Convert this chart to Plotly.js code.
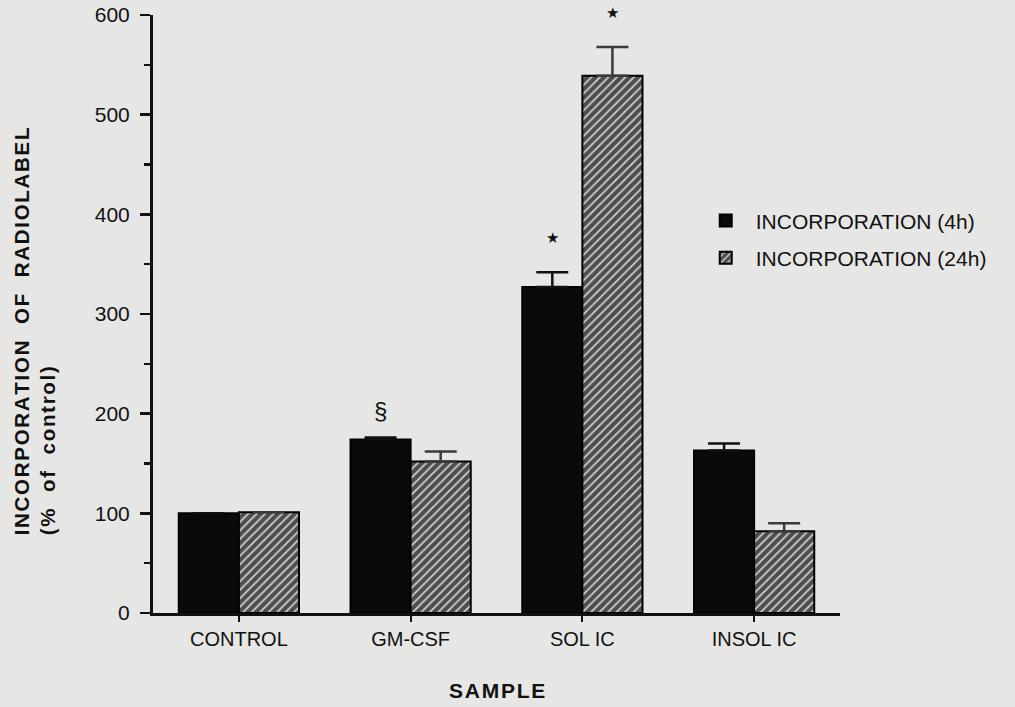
<!DOCTYPE html>
<html>
<head>
<meta charset="utf-8">
<script src="https://cdn.plot.ly/plotly-3.0.1.min.js"></script>
<style>html,body{margin:0;padding:0;background:#e6e6e4;}</style>
</head>
<body>
<div id="chart" style="width:1015px;height:707px;"></div>
<script>
const categories = ["CONTROL", "GM-CSF", "SOL IC", "INSOL IC"];
const values4h = [100, 174, 327, 163];
const err4h = [0, 2, 15, 7];
const values24h = [101, 152, 539, 82];
const err24h = [0, 10, 29, 8];
const seriesNames = ["INCORPORATION (4h)", "INCORPORATION (24h)"];
const markers = [
  {series: 0, cat: 1, text: "§"},
  {series: 0, cat: 2, text: "★"},
  {series: 1, cat: 2, text: "★"}
];
const yTitleLines = ["INCORPORATION  OF  RADIOLABEL", "(%  of  control)"];
const xTitle = "SAMPLE";

const FONT = "Liberation Sans, Arial, Helvetica, sans-serif";
const spaced = s => s.split("").join("&#8202;");
const xIdx = categories.map((c, i) => i);
const bargap = 0.3;
const half = (1 - bargap) / 4;

const trace4h = {
  type: "bar", name: seriesNames[0], legendgroup: "g4", x: xIdx, y: values4h,
  marker: {color: "#0a0a0a", line: {color: "#000", width: 2}},
  error_y: {type: "data", array: err4h, arrayminus: err4h.map(() => 0), symmetric: false,
            color: "#111", thickness: 2.5, width: 16, visible: true},
  hoverinfo: "y"
};
const trace24h = {
  type: "bar", name: seriesNames[1], legendgroup: "g24", x: xIdx, y: values24h,
  marker: {color: "#5a5a5a", line: {color: "#000", width: 2},
           pattern: {shape: "/", bgcolor: "#4e4e4e", fgcolor: "#cfcfcf", size: 6, solidity: 0.3}},
  error_y: {type: "data", array: err24h, arrayminus: err24h.map(() => 0), symmetric: false,
            color: "#3a3a3a", thickness: 2.5, width: 16, visible: true},
  hoverinfo: "y"
};

const vals = [values4h, values24h];
const errs = [err4h, err24h];
const annotations = markers.map(m => ({
  x: m.cat + (m.series === 0 ? -half : half),
  y: vals[m.series][m.cat] + errs[m.series][m.cat],
  xref: "x", yref: "y", text: m.text, showarrow: false,
  yanchor: "middle", yshift: m.text === "§" ? 27 : 34,
  font: {family: m.text === "§" ? FONT : "DejaVu Sans, sans-serif", size: m.text === "§" ? 24 : 15, color: "#111"}
}));
annotations.push({
  xref: "paper", yref: "paper", x: 0.5, y: 0, yshift: -64, yanchor: "top",
  text: "<b>" + spaced(xTitle) + "</b>", showarrow: false,
  font: {family: FONT, size: 21, color: "#111"}
});
annotations.push({
  xref: "paper", yref: "paper", x: 0, xshift: -118, y: 0.471, xanchor: "center", yanchor: "middle",
  textangle: -90, align: "left", showarrow: false,
  text: yTitleLines.map(t => "<b>" + spaced(t) + "</b>").join("<br>"),
  font: {family: FONT, size: 20.5, color: "#111"}
});

const layout = {
  width: 1015, height: 707,
  paper_bgcolor: "#e6e6e4", plot_bgcolor: "#e6e6e4",
  margin: {l: 153, r: 175, t: 15, b: 94},
  barmode: "group", bargap: bargap, bargroupgap: 0,
  showlegend: true,
  legend: {x: 0.79, y: 0.69, xanchor: "left", yanchor: "top", bgcolor: "rgba(0,0,0,0)",
           font: {family: FONT, size: 21, color: "#111"},
           tracegroupgap: 7, itemwidth: 50},
  font: {family: FONT, color: "#111"},
  xaxis: {
    range: [-0.5, 3.5], tickmode: "array", tickvals: xIdx, ticktext: categories,
    tickson: "boundaries", ticks: "outside", ticklen: 6, tickwidth: 2, tickcolor: "#111",
    showline: true, linecolor: "#111", linewidth: 3, showgrid: false, zeroline: false,
    tickfont: {family: "Liberation Sans Narrow, " + FONT, size: 20, color: "#111"},
    fixedrange: true
  },
  yaxis: {
    range: [0, 600], tickmode: "linear", tick0: 0, dtick: 100,
    ticks: "outside", ticklen: 10, tickwidth: 2.5, tickcolor: "#111",
    minor: {dtick: 50, ticks: "outside", ticklen: 6, tickwidth: 2.5, tickcolor: "#111", showgrid: false},
    showline: true, linecolor: "#111", linewidth: 3, showgrid: false, zeroline: false,
    tickfont: {family: FONT, size: 21, color: "#111"}, ticklabelstandoff: 6,
    fixedrange: true
  },
  annotations: annotations
};

Plotly.newPlot("chart", [trace4h, trace24h], layout, {displayModeBar: false, staticPlot: true});
</script>
</body>
</html>
